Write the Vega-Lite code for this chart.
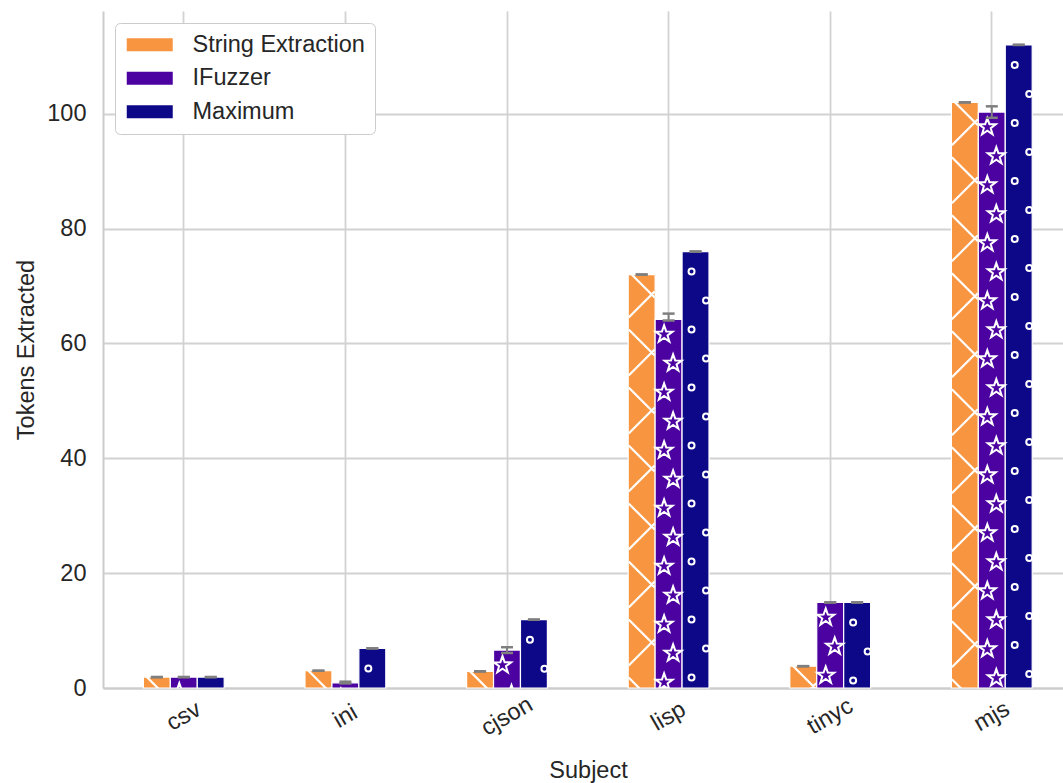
{
  "$schema": "https://vega.github.io/schema/vega-lite/v6.json",
  "width": 960,
  "height": 677,
  "autosize": {"type": "none"},
  "padding": {"left": 103, "top": 11, "right": 0, "bottom": 95},
  "background": "white",
  "config": {
    "view": {"stroke": null},
    "font": "Liberation Sans",
    "axis": {
      "labelFont": "Liberation Sans",
      "labelFontSize": 23.5,
      "labelColor": "#262626",
      "titleFont": "Liberation Sans",
      "titleFontSize": 23.5,
      "titleFontWeight": "normal",
      "titleColor": "#262626",
      "ticks": false,
      "tickSize": 0,
      "domainColor": "#cccccc",
      "domainWidth": 2,
      "gridColor": "#d2d2d2",
      "gridWidth": 1.8
    }
  },
  "data": {
    "values": [
      {"subject": "csv", "method": "String Extraction", "value": 1.9, "lo": 1.9, "hi": 1.9},
      {"subject": "csv", "method": "IFuzzer", "value": 1.9, "lo": 1.9, "hi": 1.9},
      {"subject": "csv", "method": "Maximum", "value": 1.9, "lo": 1.9, "hi": 1.9},
      {"subject": "ini", "method": "String Extraction", "value": 3.0, "lo": 3.0, "hi": 3.0},
      {"subject": "ini", "method": "IFuzzer", "value": 0.9, "lo": 0.8, "hi": 1.1},
      {"subject": "ini", "method": "Maximum", "value": 6.9, "lo": 6.9, "hi": 6.9},
      {"subject": "cjson", "method": "String Extraction", "value": 2.9, "lo": 2.9, "hi": 2.9},
      {"subject": "cjson", "method": "IFuzzer", "value": 6.6, "lo": 6.1, "hi": 7.1},
      {"subject": "cjson", "method": "Maximum", "value": 11.9, "lo": 11.9, "hi": 11.9},
      {"subject": "lisp", "method": "String Extraction", "value": 72.0, "lo": 72.0, "hi": 72.0},
      {"subject": "lisp", "method": "IFuzzer", "value": 64.2, "lo": 64.0, "hi": 65.2},
      {"subject": "lisp", "method": "Maximum", "value": 76.0, "lo": 76.0, "hi": 76.0},
      {"subject": "tinyc", "method": "String Extraction", "value": 3.8, "lo": 3.8, "hi": 3.8},
      {"subject": "tinyc", "method": "IFuzzer", "value": 14.9, "lo": 14.9, "hi": 14.9},
      {"subject": "tinyc", "method": "Maximum", "value": 14.9, "lo": 14.9, "hi": 14.9},
      {"subject": "mjs", "method": "String Extraction", "value": 102.0, "lo": 102.0, "hi": 102.0},
      {"subject": "mjs", "method": "IFuzzer", "value": 100.3, "lo": 99.3, "hi": 101.3},
      {"subject": "mjs", "method": "Maximum", "value": 112.0, "lo": 112.0, "hi": 112.0}
    ]
  },
  "encoding": {
    "x": {
      "field": "subject",
      "type": "nominal",
      "sort": ["csv", "ini", "cjson", "lisp", "tinyc", "mjs"],
      "scale": {"range": [0, 969.6], "paddingInner": 0.5, "paddingOuter": 0.25},
      "axis": {
        "title": "Subject",
        "labelAngle": -30,
        "labelAlign": "center",
        "labelBaseline": "middle",
        "labelPadding": 28,
        "bandPosition": 0.5,
        "grid": true,
        "titleX": 485,
        "titleY": 89,
        "titleBaseline": "alphabetic"
      }
    },
    "xOffset": {
      "field": "method",
      "type": "nominal",
      "sort": ["String Extraction", "IFuzzer", "Maximum"],
      "scale": {"paddingInner": 0, "paddingOuter": 0}
    },
    "y": {
      "field": "value",
      "type": "quantitative",
      "scale": {"domain": [0, 117.9], "nice": false, "zero": true},
      "axis": {
        "title": "Tokens Extracted",
        "values": [0, 20, 40, 60, 80, 100],
        "labelPadding": 17,
        "grid": true,
        "titleX": -70,
        "titleY": 338.5,
        "titleAngle": 270,
        "titleBaseline": "alphabetic"
      }
    }
  },
  "layer": [
    {
      "mark": {"type": "bar", "stroke": "white", "strokeWidth": 1.2},
      "encoding": {
        "color": {
          "field": "method",
          "type": "nominal",
          "sort": ["String Extraction", "IFuzzer", "Maximum"],
          "scale": {
            "domain": ["String Extraction", "IFuzzer", "Maximum"],
            "range": ["#f89540", "#4c02a1", "#0d0887"]
          },
          "legend": {
            "title": null,
            "orient": "none",
            "legendX": 12,
            "legendY": 12,
            "symbolType": "M-10,-6.5H36V6.5H-10Z",
            "symbolSize": 4,
            "symbolStrokeWidth": 0,
            "symbolOpacity": 1,
            "labelFont": "Liberation Sans",
            "labelFontSize": 23.5,
            "labelColor": "#262626",
            "labelLimit": 400,
            "labelOffset": 44,
            "rowPadding": 8.5,
            "padding": 10,
            "fillColor": "white",
            "strokeColor": "#cccccc",
            "cornerRadius": 5
          }
        }
      }
    },
    {
      "transform": [{"filter": "datum.method == 'String Extraction'"}],
      "mark": {
        "type": "point",
        "clip": true,
        "filled": false,
        "opacity": 1,
        "size": 4,
        "stroke": "white",
        "strokeWidth": 2.2,
        "shape": "M-13,-3L13,23M-13,55L13,81M-13,113L13,139M-13,171L13,197M-13,229L13,255M-13,287L13,313M-13,345L13,371M-13,403L13,429M-13,461L13,487M-13,519L13,545M-13,577L13,603M-13,43L13,17M-13,101L13,75M-13,159L13,133M-13,217L13,191M-13,275L13,249M-13,333L13,307M-13,391L13,365M-13,449L13,423M-13,507L13,481M-13,565L13,539M-13,623L13,597"
      }
    },
    {
      "transform": [{"filter": "datum.method == 'IFuzzer'"}],
      "mark": {
        "type": "point",
        "clip": true,
        "filled": false,
        "opacity": 1,
        "size": 4,
        "stroke": "white",
        "strokeWidth": 2,
        "shape": "M-4.5,6l2.12,6.09l6.45,0.13l-5.14,3.9l1.87,6.17l-5.3,-3.69l-5.3,3.69l1.87,-6.17l-5.14,-3.9l6.45,-0.13zM4.5,35l2.12,6.09l6.45,0.13l-5.14,3.9l1.87,6.17l-5.3,-3.69l-5.3,3.69l1.87,-6.17l-5.14,-3.9l6.45,-0.13zM-4.5,64l2.12,6.09l6.45,0.13l-5.14,3.9l1.87,6.17l-5.3,-3.69l-5.3,3.69l1.87,-6.17l-5.14,-3.9l6.45,-0.13zM4.5,93l2.12,6.09l6.45,0.13l-5.14,3.9l1.87,6.17l-5.3,-3.69l-5.3,3.69l1.87,-6.17l-5.14,-3.9l6.45,-0.13zM-4.5,122l2.12,6.09l6.45,0.13l-5.14,3.9l1.87,6.17l-5.3,-3.69l-5.3,3.69l1.87,-6.17l-5.14,-3.9l6.45,-0.13zM4.5,151l2.12,6.09l6.45,0.13l-5.14,3.9l1.87,6.17l-5.3,-3.69l-5.3,3.69l1.87,-6.17l-5.14,-3.9l6.45,-0.13zM-4.5,180l2.12,6.09l6.45,0.13l-5.14,3.9l1.87,6.17l-5.3,-3.69l-5.3,3.69l1.87,-6.17l-5.14,-3.9l6.45,-0.13zM4.5,209l2.12,6.09l6.45,0.13l-5.14,3.9l1.87,6.17l-5.3,-3.69l-5.3,3.69l1.87,-6.17l-5.14,-3.9l6.45,-0.13zM-4.5,238l2.12,6.09l6.45,0.13l-5.14,3.9l1.87,6.17l-5.3,-3.69l-5.3,3.69l1.87,-6.17l-5.14,-3.9l6.45,-0.13zM4.5,267l2.12,6.09l6.45,0.13l-5.14,3.9l1.87,6.17l-5.3,-3.69l-5.3,3.69l1.87,-6.17l-5.14,-3.9l6.45,-0.13zM-4.5,296l2.12,6.09l6.45,0.13l-5.14,3.9l1.87,6.17l-5.3,-3.69l-5.3,3.69l1.87,-6.17l-5.14,-3.9l6.45,-0.13zM4.5,325l2.12,6.09l6.45,0.13l-5.14,3.9l1.87,6.17l-5.3,-3.69l-5.3,3.69l1.87,-6.17l-5.14,-3.9l6.45,-0.13zM-4.5,354l2.12,6.09l6.45,0.13l-5.14,3.9l1.87,6.17l-5.3,-3.69l-5.3,3.69l1.87,-6.17l-5.14,-3.9l6.45,-0.13zM4.5,383l2.12,6.09l6.45,0.13l-5.14,3.9l1.87,6.17l-5.3,-3.69l-5.3,3.69l1.87,-6.17l-5.14,-3.9l6.45,-0.13zM-4.5,412l2.12,6.09l6.45,0.13l-5.14,3.9l1.87,6.17l-5.3,-3.69l-5.3,3.69l1.87,-6.17l-5.14,-3.9l6.45,-0.13zM4.5,441l2.12,6.09l6.45,0.13l-5.14,3.9l1.87,6.17l-5.3,-3.69l-5.3,3.69l1.87,-6.17l-5.14,-3.9l6.45,-0.13zM-4.5,470l2.12,6.09l6.45,0.13l-5.14,3.9l1.87,6.17l-5.3,-3.69l-5.3,3.69l1.87,-6.17l-5.14,-3.9l6.45,-0.13zM4.5,499l2.12,6.09l6.45,0.13l-5.14,3.9l1.87,6.17l-5.3,-3.69l-5.3,3.69l1.87,-6.17l-5.14,-3.9l6.45,-0.13zM-4.5,528l2.12,6.09l6.45,0.13l-5.14,3.9l1.87,6.17l-5.3,-3.69l-5.3,3.69l1.87,-6.17l-5.14,-3.9l6.45,-0.13zM4.5,557l2.12,6.09l6.45,0.13l-5.14,3.9l1.87,6.17l-5.3,-3.69l-5.3,3.69l1.87,-6.17l-5.14,-3.9l6.45,-0.13zM-4.5,586l2.12,6.09l6.45,0.13l-5.14,3.9l1.87,6.17l-5.3,-3.69l-5.3,3.69l1.87,-6.17l-5.14,-3.9l6.45,-0.13z"
      }
    },
    {
      "transform": [{"filter": "datum.method == 'Maximum'"}],
      "mark": {
        "type": "point",
        "clip": true,
        "filled": false,
        "opacity": 1,
        "size": 4,
        "stroke": "white",
        "strokeWidth": 2,
        "shape": "M-7,20a3,3 0 1,0 6,0a3,3 0 1,0 -6,0M-7,78a3,3 0 1,0 6,0a3,3 0 1,0 -6,0M-7,136a3,3 0 1,0 6,0a3,3 0 1,0 -6,0M-7,194a3,3 0 1,0 6,0a3,3 0 1,0 -6,0M-7,252a3,3 0 1,0 6,0a3,3 0 1,0 -6,0M-7,310a3,3 0 1,0 6,0a3,3 0 1,0 -6,0M-7,368a3,3 0 1,0 6,0a3,3 0 1,0 -6,0M-7,426a3,3 0 1,0 6,0a3,3 0 1,0 -6,0M-7,484a3,3 0 1,0 6,0a3,3 0 1,0 -6,0M-7,542a3,3 0 1,0 6,0a3,3 0 1,0 -6,0M-7,600a3,3 0 1,0 6,0a3,3 0 1,0 -6,0M-7,658a3,3 0 1,0 6,0a3,3 0 1,0 -6,0M7.5,49a3,3 0 1,0 6,0a3,3 0 1,0 -6,0M7.5,107a3,3 0 1,0 6,0a3,3 0 1,0 -6,0M7.5,165a3,3 0 1,0 6,0a3,3 0 1,0 -6,0M7.5,223a3,3 0 1,0 6,0a3,3 0 1,0 -6,0M7.5,281a3,3 0 1,0 6,0a3,3 0 1,0 -6,0M7.5,339a3,3 0 1,0 6,0a3,3 0 1,0 -6,0M7.5,397a3,3 0 1,0 6,0a3,3 0 1,0 -6,0M7.5,455a3,3 0 1,0 6,0a3,3 0 1,0 -6,0M7.5,513a3,3 0 1,0 6,0a3,3 0 1,0 -6,0M7.5,571a3,3 0 1,0 6,0a3,3 0 1,0 -6,0M7.5,629a3,3 0 1,0 6,0a3,3 0 1,0 -6,0"
      }
    },
    {
      "mark": {"type": "rule", "color": "#7f7f7f", "strokeWidth": 2},
      "encoding": {
        "y": {"field": "lo", "type": "quantitative"},
        "y2": {"field": "hi"}
      }
    },
    {
      "mark": {"type": "tick", "color": "#7f7f7f", "size": 12, "thickness": 2.5, "opacity": 1},
      "encoding": {"y": {"field": "lo", "type": "quantitative"}}
    },
    {
      "mark": {"type": "tick", "color": "#7f7f7f", "size": 12, "thickness": 2.5, "opacity": 1},
      "encoding": {"y": {"field": "hi", "type": "quantitative"}}
    },
    {
      "data": {"values": [{"edge": "top"}]},
      "mark": {"type": "rule", "color": "#cccccc", "strokeWidth": 2},
      "encoding": {
        "x": null,
        "xOffset": null,
        "y": {"datum": 117.9, "type": "quantitative"}
      }
    }
  ]
}
